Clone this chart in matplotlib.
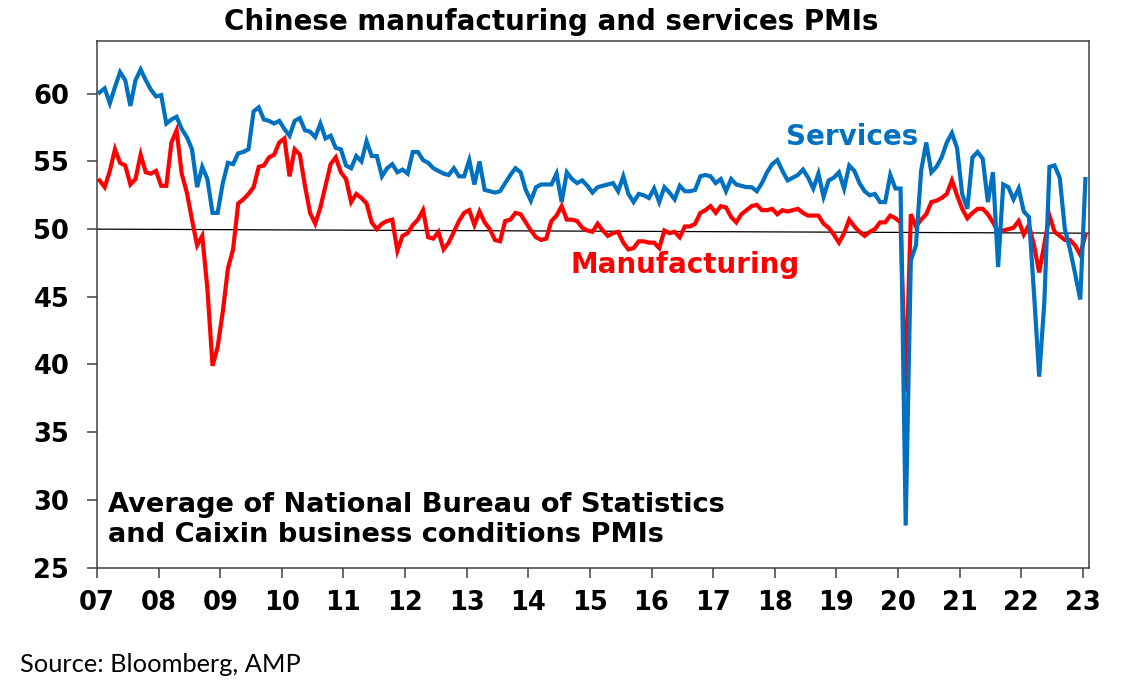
import numpy as np
import matplotlib
matplotlib.use("Agg")
import matplotlib.pyplot as plt

# monthly averages, Jan 2007 .. Jan 2023
services = [
    60.1, 60.4, 59.3, 60.5, 61.6, 61.0, 59.1, 61.0, 61.8, 61.0, 60.3, 59.8,  # 2007
    59.9, 57.8, 58.1, 58.3, 57.4, 56.8, 55.9, 53.1, 54.6, 53.7, 51.2, 51.2,  # 2008
    53.4, 54.9, 54.8, 55.6, 55.7, 55.9, 58.7, 59.0, 58.1, 58.0, 57.8, 58.0,  # 2009
    57.4, 56.9, 58.0, 58.2, 57.3, 57.2, 56.8, 57.8, 56.7, 56.9, 56.0, 55.9,  # 2010
    54.7, 54.5, 55.4, 55.0, 56.5, 55.4, 55.4, 53.9, 54.5, 54.8, 54.2, 54.4,  # 2011
    54.1, 55.7, 55.7, 55.1, 54.9, 54.5, 54.3, 54.1, 54.0, 54.5, 53.9, 53.9,  # 2012
    55.1, 53.3, 55.0, 52.9, 52.8, 52.7, 52.8, 53.4, 54.0, 54.5, 54.2, 52.9,  # 2013
    52.1, 53.1, 53.3, 53.3, 53.3, 54.1, 52.0, 54.2, 53.7, 53.4, 53.6, 53.2,  # 2014
    52.7, 53.1, 53.2, 53.3, 53.4, 52.8, 53.9, 52.6, 52.0, 52.6, 52.5, 52.3,  # 2015
    53.0, 52.0, 53.1, 52.7, 52.2, 53.2, 52.8, 52.8, 52.9, 53.9, 54.0, 53.9,  # 2016
    53.4, 53.7, 52.8, 53.7, 53.3, 53.2, 53.1, 53.1, 52.8, 53.4, 54.2, 54.8,  # 2017
    55.1, 54.3, 53.6, 53.8, 54.0, 54.4, 53.8, 53.0, 54.1, 52.4, 53.6, 53.8,  # 2018
    54.2, 53.0, 54.7, 54.3, 53.4, 52.8, 52.5, 52.6, 52.0, 52.0, 54.0, 53.0,  # 2019
    53.0, 28.1, 47.7, 48.8, 54.3, 56.4, 54.2, 54.6, 55.3, 56.4, 57.1, 56.0,  # 2020
    52.6, 51.5, 55.3, 55.7, 55.2, 52.0, 54.2, 47.2, 53.3, 53.1, 52.2, 53.0,  # 2021
    51.3, 50.9, 45.2, 39.1, 44.6, 54.6, 54.7, 53.8, 50.0, 48.5, 46.7, 44.8,  # 2022
    53.7,                                                                    # 2023
]

manufacturing = [
    53.6, 53.1, 54.3, 55.9, 54.9, 54.7, 53.3, 53.7, 55.5, 54.2, 54.1, 54.3,  # 2007
    53.2, 53.2, 56.4, 57.3, 54.1, 52.7, 50.7, 48.8, 49.5, 45.6, 39.9, 41.3,  # 2008
    43.9, 47.1, 48.5, 51.9, 52.2, 52.6, 53.1, 54.6, 54.7, 55.3, 55.5, 56.4,  # 2009
    56.7, 53.9, 55.9, 55.5, 53.2, 51.2, 50.4, 51.6, 53.2, 54.8, 55.3, 54.2,  # 2010
    53.7, 52.0, 52.6, 52.3, 51.9, 50.5, 50.0, 50.4, 50.6, 50.7, 48.4, 49.5,  # 2011
    49.7, 50.3, 50.7, 51.4, 49.4, 49.3, 49.8, 48.5, 49.0, 49.8, 50.6, 51.2,  # 2012
    51.4, 50.3, 51.3, 50.5, 50.0, 49.2, 49.1, 50.6, 50.7, 51.2, 51.1, 50.5,  # 2013
    49.9, 49.4, 49.2, 49.3, 50.6, 51.0, 51.7, 50.7, 50.7, 50.6, 50.1, 49.9,  # 2014
    49.8, 50.4, 49.9, 49.5, 49.7, 49.8, 49.0, 48.5, 48.6, 49.1, 49.1, 49.0,  # 2015
    49.0, 48.6, 49.9, 49.7, 49.8, 49.4, 50.2, 50.2, 50.4, 51.2, 51.4, 51.7,  # 2016
    51.2, 51.7, 51.6, 50.9, 50.5, 51.1, 51.4, 51.7, 51.8, 51.4, 51.4, 51.5,  # 2017
    51.1, 51.4, 51.3, 51.4, 51.5, 51.2, 51.0, 51.0, 51.0, 50.4, 50.1, 49.6,  # 2018
    49.0, 49.7, 50.7, 50.2, 49.8, 49.5, 49.8, 50.0, 50.5, 50.5, 51.0, 50.8,  # 2019
    50.5, 38.0, 51.1, 50.2, 50.7, 51.1, 52.0, 52.1, 52.3, 52.6, 53.6, 52.5,  # 2020
    51.5, 50.8, 51.2, 51.5, 51.5, 51.1, 50.5, 49.8, 49.9, 50.0, 50.1, 50.6,  # 2021
    49.6, 50.3, 48.8, 46.8, 48.9, 51.0, 49.8, 49.5, 49.2, 49.2, 48.8, 48.1,  # 2022
    49.6,                                                                    # 2023
]

years = list(range(2007, 2024))
year_labels = ["%02d" % (y % 100) for y in years]
yticks = [25, 30, 35, 40, 45, 50, 55, 60]
# the "50" reference line in the original is drawn slightly tilted
ref_x = [2007.0, 2023.1]
ref_y = [50.0, 49.7]

blue = "#0070C0"
red = "#FF0000"
edge = "#404040"

# month mid-points as decimal years
t = 2007 + (np.arange(len(services)) + 0.5) / 12

fig = plt.figure(figsize=(11.31, 6.96), dpi=100)
ax = fig.add_axes([97 / 1131, 128.5 / 696, 992 / 1131, 526.5 / 696])

ax.plot(ref_x, ref_y, color="black", lw=0.9, zorder=1)
ax.plot(t, manufacturing, color=red, lw=3.0, zorder=2, solid_joinstyle="miter")
ax.plot(t, services, color=blue, lw=3.0, zorder=3, solid_joinstyle="miter")

ax.set_xlim(2007.0, 2023.1)
ax.set_ylim(25, 63.9)
ax.set_xticks(years)
ax.set_xticklabels(year_labels)
ax.set_yticks(yticks)

for s in ax.spines.values():
    s.set_color(edge)
    s.set_linewidth(1.1)
ax.tick_params(axis="both", direction="out", length=7, width=1.1, color=edge,
               labelsize=18.5)
ax.tick_params(axis="y", pad=13)
ax.tick_params(axis="x", pad=9)
for lab in ax.get_xticklabels() + ax.get_yticklabels():
    lab.set_fontweight("bold")

ax.text(2019.25, 56.8, "Services", color=blue, fontsize=20, fontweight="bold",
        ha="center", va="center")
ax.text(2016.54, 47.35, "Manufacturing", color=red, fontsize=20, fontweight="bold",
        ha="center", va="center")
ax.text(2007.18, 28.5, "Average of National Bureau of Statistics\nand Caixin business conditions PMIs",
        color="black", fontsize=19.6, fontweight="bold", ha="left", va="center",
        linespacing=1.2)

fig.text(551.5 / 1131, 1 - 22 / 696, "Chinese manufacturing and services PMIs",
         fontsize=20, fontweight="bold", ha="center", va="center")
fig.text(20 / 1131, 1 - 665 / 696, "Source: Bloomberg, AMP", fontsize=18.3,
         family="Lato", ha="left", va="center")

fig.savefig("out.png", dpi=100)
